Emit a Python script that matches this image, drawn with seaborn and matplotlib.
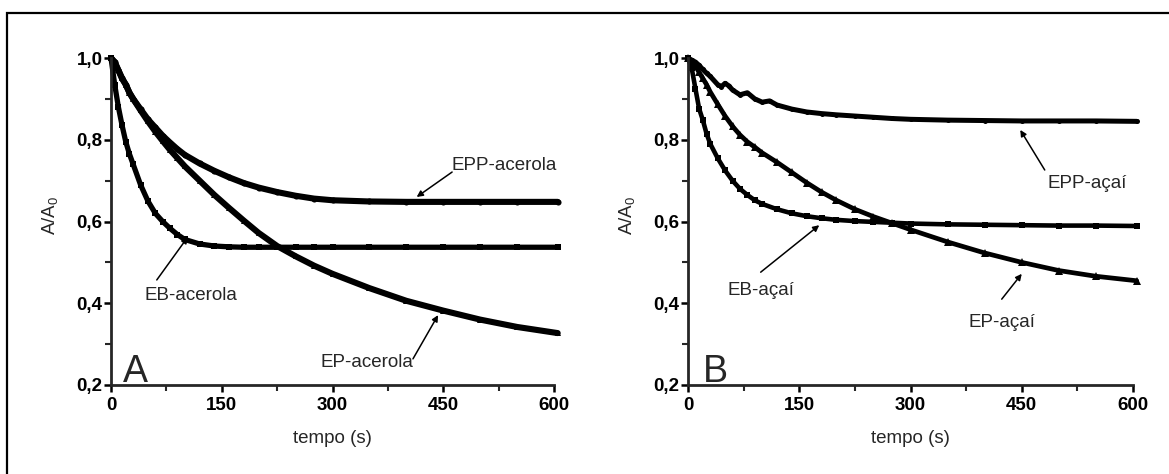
import matplotlib
matplotlib.use("Agg")
import matplotlib.pyplot as plt
from matplotlib.patches import Rectangle
from matplotlib.ticker import MultipleLocator, FixedLocator, FixedFormatter
import seaborn as sns
import pandas as pd

# ---------------- data ----------------
t_common = [0, 5, 10, 15, 20, 25, 30, 40, 50, 60, 70, 80, 90, 100, 120, 140, 160,
            180, 200, 225, 250, 275, 300, 350, 400, 450, 500, 550, 605]

eb_acerola = [1.0, 0.935, 0.88, 0.835, 0.795, 0.765, 0.74, 0.69, 0.65, 0.62, 0.60,
              0.583, 0.568, 0.556, 0.545, 0.540, 0.538, 0.537, 0.537, 0.537, 0.537,
              0.537, 0.537, 0.537, 0.537, 0.537, 0.537, 0.537, 0.537]
epp_acerola = [1.0, 0.99, 0.97, 0.95, 0.935, 0.915, 0.90, 0.875, 0.85, 0.83, 0.81,
               0.793, 0.777, 0.763, 0.742, 0.724, 0.708, 0.694, 0.683, 0.672, 0.663,
               0.656, 0.652, 0.649, 0.648, 0.648, 0.648, 0.648, 0.648]
ep_acerola = [1.0, 0.99, 0.97, 0.95, 0.935, 0.915, 0.90, 0.872, 0.845, 0.82, 0.797,
              0.775, 0.755, 0.735, 0.70, 0.665, 0.633, 0.602, 0.572, 0.540, 0.515,
              0.492, 0.472, 0.437, 0.406, 0.382, 0.360, 0.342, 0.327]

eb_acai = [1.0, 0.975, 0.925, 0.876, 0.848, 0.815, 0.79, 0.755, 0.725, 0.70, 0.68,
           0.665, 0.652, 0.643, 0.63, 0.62, 0.613, 0.608, 0.604, 0.601, 0.599, 0.597,
           0.595, 0.593, 0.592, 0.591, 0.590, 0.590, 0.589]
ep_acai = [1.0, 0.99, 0.98, 0.965, 0.95, 0.935, 0.917, 0.887, 0.858, 0.833, 0.812,
           0.795, 0.782, 0.768, 0.745, 0.72, 0.695, 0.672, 0.652, 0.63, 0.612, 0.596,
           0.58, 0.55, 0.523, 0.50, 0.48, 0.466, 0.455]

t_epp_acai = [0, 5, 10, 15, 20, 25, 30, 40, 45, 50, 55, 60, 70, 80, 90, 100, 110,
              120, 140, 160, 180, 200, 225, 250, 275, 300, 350, 400, 450, 500, 550, 605]
epp_acai = [1.0, 0.995, 0.99, 0.982, 0.972, 0.963, 0.955, 0.935, 0.93, 0.938, 0.932,
            0.922, 0.91, 0.915, 0.9, 0.892, 0.895, 0.885, 0.875, 0.868, 0.864,
            0.861, 0.858, 0.855, 0.852, 0.850, 0.848, 0.847, 0.846, 0.846, 0.846, 0.845]

x_ticks = [0, 150, 300, 450, 600]
x_ticklabels = ["0", "150", "300", "450", "600"]
y_ticks = [0.2, 0.4, 0.6, 0.8, 1.0]
y_ticklabels = ["0,2", "0,4", "0,6", "0,8", "1,0"]
x_label = "tempo (s)"
y_label = r"A/A$_\mathregular{0}$"

# ---------------- style ----------------
sns.set_style("ticks")
plt.rcParams["font.family"] = ["Liberation Sans", "DejaVu Sans"]
plt.rcParams["mathtext.fontset"] = "custom"
plt.rcParams["mathtext.rm"] = "Liberation Sans"

fig = plt.figure(figsize=(11.69, 4.74), dpi=100)
W, H = 1169, 474

def px_axes(x0, x1, ytop, ybot):
    return fig.add_axes([x0 / W, (H - ybot) / H, (x1 - x0) / W, (ybot - ytop) / H])

axA = px_axes(111, 554, 58, 385)
axB = px_axes(688, 1133, 58, 385)

# frame around figure (cut at right/bottom)
fig.add_artist(Rectangle((7 / W, -0.2), 1.2, (H - 13) / H + 0.2, transform=fig.transFigure,
                         fill=False, lw=1.6, edgecolor="black"))

def draw(ax, t, y, marker, lw, ms):
    df = pd.DataFrame({"t": t, "y": y})
    sns.lineplot(data=df, x="t", y="y", ax=ax, color="black", lw=lw, marker=marker,
                 markersize=ms, markeredgewidth=0, clip_on=False, sort=False)

draw(axA, t_common, ep_acerola, "^", 4.4, 4.4)
draw(axA, t_common, epp_acerola, "o", 4.4, 4.4)
draw(axA, t_common, eb_acerola, "s", 3.8, 5)

draw(axB, t_common, ep_acai, "^", 3.4, 5.5)
draw(axB, t_epp_acai, epp_acai, "o", 3.6, 3.6)
draw(axB, t_common, eb_acai, "s", 3.3, 5)

for ax in (axA, axB):
    ax.set_xlim(0, 600)
    ax.set_ylim(0.2, 1.0)
    sns.despine(ax=ax)
    for s in ("left", "bottom"):
        ax.spines[s].set_linewidth(2.0)
    ax.xaxis.set_major_locator(FixedLocator(x_ticks))
    ax.xaxis.set_major_formatter(FixedFormatter(x_ticklabels))
    ax.yaxis.set_major_locator(FixedLocator(y_ticks))
    ax.yaxis.set_major_formatter(FixedFormatter(y_ticklabels))
    ax.xaxis.set_minor_locator(MultipleLocator(75))
    ax.yaxis.set_minor_locator(MultipleLocator(0.1))
    ax.tick_params(which="major", direction="out", length=5, width=1.8,
                   labelsize=13.5, colors="black")
    ax.tick_params(axis="x", which="major", pad=4)
    ax.tick_params(axis="y", which="major", pad=1)
    ax.tick_params(which="minor", direction="out", length=4, width=1.5)
    for lab in ax.get_xticklabels() + ax.get_yticklabels():
        lab.set_fontweight("bold")
    ax.set_xlabel(x_label, fontsize=13.5, labelpad=11)
    ax.set_ylabel(y_label, fontsize=13.5)
    ax.yaxis.set_label_coords(-0.112, 0.52)
    ax.set_facecolor("none")

akw = dict(arrowstyle="-|>", lw=1.1, color="black", mutation_scale=9, shrinkA=0, shrinkB=0)
tkw = dict(fontsize=13.5, ha="center", va="center")

axA.text(533, 0.738, "EPP-acerola", **tkw)
axA.annotate("", xy=(414, 0.660), xytext=(462, 0.721), arrowprops=akw)
axA.text(108, 0.420, "EB-acerola", **tkw)
axA.annotate("", xy=(104, 0.562), xytext=(62, 0.457), arrowprops=akw)
axA.text(347, 0.256, "EP-acerola", **tkw)
axA.annotate("", xy=(443, 0.371), xytext=(409, 0.264), arrowprops=akw)
axA.text(16, 0.207, "A", fontsize=27, ha="left", va="baseline")

axB.text(538, 0.692, "EPP-açaí", **tkw)
axB.annotate("", xy=(448, 0.824), xytext=(481, 0.726), arrowprops=akw)
axB.text(98, 0.432, "EB-açaí", **tkw)
axB.annotate("", xy=(177, 0.591), xytext=(98, 0.476), arrowprops=akw)
axB.text(423, 0.354, "EP-açaí", **tkw)
axB.annotate("", xy=(450, 0.472), xytext=(423, 0.410), arrowprops=akw)
axB.text(20, 0.207, "B", fontsize=27, ha="left", va="baseline")

fig.savefig("out.png", dpi=100)
